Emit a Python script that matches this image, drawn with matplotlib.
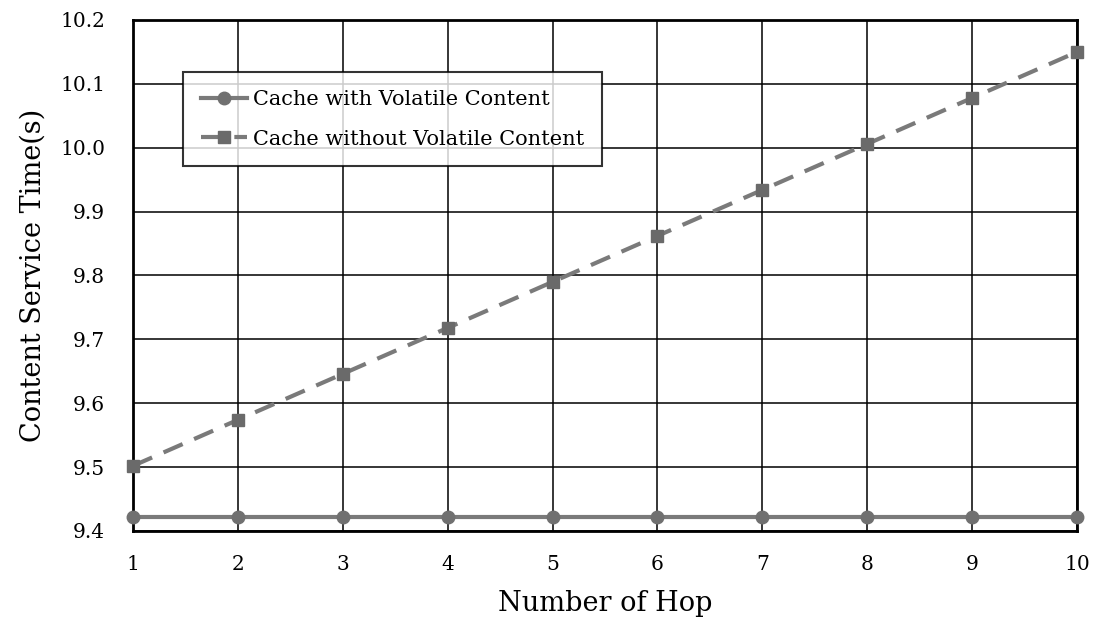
import matplotlib.pyplot as plt

hops = [1, 2, 3, 4, 5, 6, 7, 8, 9, 10]
with_volatile = [9.422, 9.422, 9.422, 9.422, 9.422, 9.422, 9.422, 9.422, 9.422, 9.422]
without_volatile = [9.502, 9.574, 9.646, 9.718, 9.790, 9.862, 9.934, 10.006, 10.078, 10.150]
y_ticks = [9.4, 9.5, 9.6, 9.7, 9.8, 9.9, 10.0, 10.1, 10.2]
y_labels = ["9.4", "9.5", "9.6", "9.7", "9.8", "9.9", "10.0", "10.1", "10.2"]

plt.rcParams['font.family'] = ['DejaVu Serif']

fig = plt.figure(figsize=(10.93, 6.23), dpi=100)
ax = fig.add_axes([0.1217, 0.1477, 0.8637, 0.8202])

ax.plot(hops, with_volatile, color='#7a7a7a', linewidth=3, marker='o', markersize=9,
        markerfacecolor='#707070', markeredgecolor='#707070', label='Cache with Volatile Content',
        clip_on=False, zorder=3)
ax.plot(hops, without_volatile, color='#7a7a7a', linewidth=3, linestyle=(0, (5, 3)), marker='s',
        markersize=8, markerfacecolor='#6a6a6a', markeredgecolor='#6a6a6a',
        label='Cache without Volatile Content', clip_on=False, zorder=3)

ax.set_xlim(1, 10)
ax.set_ylim(9.4, 10.2)
ax.set_xticks(hops)
ax.set_yticks(y_ticks)
ax.set_yticklabels(y_labels)
ax.tick_params(length=0, labelsize=14.5)
ax.tick_params(axis='x', pad=17)
ax.tick_params(axis='y', pad=20)
ax.grid(True, color='black', linewidth=1.1)
ax.set_axisbelow(True)
for s in ax.spines.values():
    s.set_linewidth(2)

ax.set_xlabel('Number of Hop', fontsize=19.5, labelpad=12)
ax.set_ylabel('Content Service Time(s)', fontsize=19.5, labelpad=10)

leg = ax.legend(loc='upper left', bbox_to_anchor=(0.053, 0.898), borderaxespad=0,
                fontsize=15, frameon=True, fancybox=False, edgecolor='black',
                handlelength=2.2, labelspacing=1.0, borderpad=0.85, handletextpad=0.3)
leg.get_frame().set_linewidth(1.5)

fig.savefig('out.png', dpi=100)
